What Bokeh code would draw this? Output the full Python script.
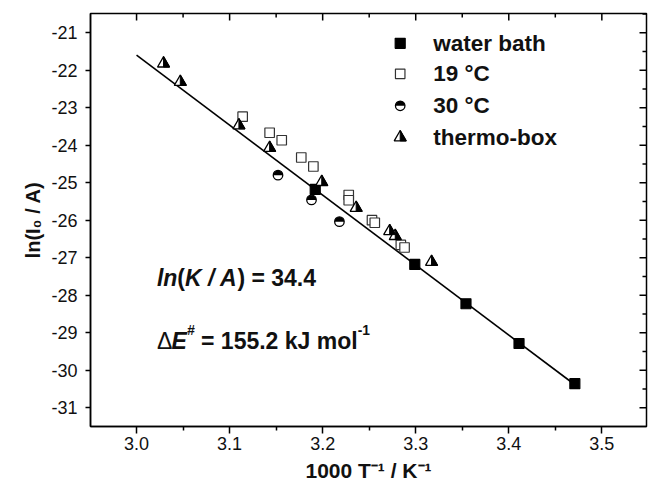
import numpy as np
from bokeh.plotting import figure
from bokeh.models import Range1d, FixedTicker, Label
from bokeh.embed import file_html
from bokeh.resources import INLINE

# ---------------- data ----------------
water_x = [3.192, 3.299, 3.354, 3.411, 3.471]
water_y = [-25.18, -27.18, -28.23, -29.29, -30.36]

c19_x = [3.114, 3.143, 3.156, 3.177, 3.190, 3.228, 3.228, 3.253, 3.256, 3.284, 3.288]
c19_y = [-23.24, -23.67, -23.87, -24.33, -24.57, -25.33, -25.47, -26.00, -26.07, -26.66, -26.73]

c30_x = [3.152, 3.188, 3.218]
c30_y = [-24.80, -25.46, -26.04]

box_x = [3.029, 3.047, 3.110, 3.143, 3.199, 3.236, 3.272, 3.278, 3.317]
box_y = [-21.82, -22.31, -23.47, -24.07, -24.98, -25.67, -26.29, -26.42, -27.11]

fit_x = [3.0, 3.47]
fit_y = [-21.6, -30.37]

x_ticks = [3.0, 3.1, 3.2, 3.3, 3.4, 3.5]
x_tick_labels = ["3.0", "3.1", "3.2", "3.3", "3.4", "3.5"]
x_minor = [3.05, 3.15, 3.25, 3.35, 3.45]
y_ticks = [-31, -30, -29, -28, -27, -26, -25, -24, -23, -22, -21]
y_tick_labels = ["-31", "-30", "-29", "-28", "-27", "-26", "-25", "-24", "-23", "-22", "-21"]
y_minor = [-30.5, -29.5, -28.5, -27.5, -26.5, -25.5, -24.5, -23.5, -22.5, -21.5, -20.5]

legend_labels = ["water bath", "19 \u00b0C", "30 \u00b0C", "thermo-box"]
x_title = "1000 T\u207b\u00b9 / K\u207b\u00b9"
y_title = "ln(I\u2080 / A)"

# ---------------- layout ----------------
X0, X1 = 2.9505, 3.548
Y0, Y1 = -31.503, -20.49
FW, FH = 556, 413
PXX = FW / (X1 - X0)
PXY = FH / (Y1 - Y0)
FONT = "Liberation Sans"
INK = "#111111"

p = figure(frame_width=FW, frame_height=FH,
           x_range=Range1d(X0, X1), y_range=Range1d(Y0, Y1),
           output_backend="svg", toolbar_location=None,
           min_border_left=90, min_border_top=13, min_border_right=2, min_border_bottom=40)
p.grid.visible = False
p.outline_line_color = "black"
p.outline_line_width = 1.5
p.background_fill_color = "white"
p.border_fill_color = "white"

def style_axis(ax):
    ax.axis_line_color = "black"
    ax.axis_line_width = 1.5
    ax.major_tick_line_color = "black"
    ax.major_tick_line_width = 1.5
    ax.minor_tick_line_color = "black"
    ax.minor_tick_line_width = 1.5
    ax.major_label_text_font = FONT
    ax.major_label_text_font_size = "18px"
    ax.major_label_text_color = INK
    ax.axis_label_text_font = FONT
    ax.axis_label_text_font_style = "bold"
    ax.axis_label_text_color = INK

xa = p.xaxis[0]
style_axis(xa)
xa.ticker = FixedTicker(ticks=x_ticks, minor_ticks=x_minor)
xa.major_label_overrides = dict(zip(x_ticks, x_tick_labels))
xa.major_tick_out = 7
xa.major_tick_in = 0
xa.minor_tick_out = 4
xa.minor_tick_in = 0
xa.major_label_standoff = 3
xa.axis_label = x_title
xa.axis_label_text_font_size = "21px"
xa.axis_label_standoff = 6

ya = p.yaxis[0]
style_axis(ya)
ya.ticker = FixedTicker(ticks=y_ticks, minor_ticks=[])
ya.major_label_overrides = dict(zip(y_ticks, y_tick_labels))
ya.major_tick_out = 5
ya.major_tick_in = 0
ya.minor_tick_line_color = None
ya.major_label_standoff = 8
ya.axis_label = y_title
ya.axis_label_text_font_size = "20px"
ya.axis_label_standoff = 4

# inward ticks on the top and right frame edges (mirrored from the tick arrays)
def vticks(xs, length):
    p.segment(x0=xs, y0=[Y1] * len(xs), x1=xs, y1=[Y1 - length / PXY] * len(xs),
              line_color="black", line_width=1.5)

def hticks(ys, length):
    p.segment(x0=[X1] * len(ys), y0=ys, x1=[X1 - length / PXX] * len(ys), y1=ys,
              line_color="black", line_width=1.5)

vticks(x_ticks, 7)
vticks(x_minor, 4)
hticks(y_ticks, 7)
hticks(y_minor, 4)

# ---------------- marks ----------------
p.line(fit_x, fit_y, line_color="black", line_width=1.6)

def draw_square(xs, ys, filled):
    p.scatter(xs, ys, marker="square", size=10 if filled else 9.5,
              fill_color="black" if filled else "white",
              line_color="black" if filled else "#333333", line_width=1.2)

def draw_halfcircle(xs, ys):
    p.scatter(xs, ys, marker="circle", size=9.5, fill_color="white", line_color=None)
    p.wedge(xs, ys, radius=4.75, radius_units="screen", start_angle=0, end_angle=np.pi,
            fill_color="black", line_color=None)
    p.scatter(xs, ys, marker="circle", size=9.5, fill_color=None, line_color="black", line_width=1.3)

TRI = [(-6.0, 3.6), (6.0, 3.6), (0.0, -6.8)]
TRI_HALF = [(0.0, -6.8), (6.0, 3.6), (0.0, 3.6)]

def _pts(xs, ys, pts):
    return ([[x + dx / PXX for dx, dy in pts] for x in xs],
            [[y - dy / PXY for dx, dy in pts] for y in ys])

def draw_halftri(xs, ys):
    a, b = _pts(xs, ys, TRI)
    p.patches(a, b, fill_color="white", line_color="black", line_width=1.3)
    c, d = _pts(xs, ys, TRI_HALF)
    p.patches(c, d, fill_color="black", line_color="black", line_width=1.0)

draw_square(c19_x, c19_y, False)
draw_square(water_x, water_y, True)
draw_halfcircle(c30_x, c30_y)
draw_halftri(box_x, box_y)

# ---------------- legend (manual) ----------------
def sx(px):
    return X0 + (px - 90.3) / PXX

def sy(py):
    return Y1 - (py - 12.7) / PXY

leg_rows = [42.5, 73.0, 105.0, 136.5]
mx = sx(400)
draw_square([mx], [sy(leg_rows[0])], True)
draw_square([mx], [sy(leg_rows[1])], False)
draw_halfcircle([mx], [sy(leg_rows[2])])
draw_halftri([mx], [sy(leg_rows[3])])
for lab, r in zip(legend_labels, leg_rows):
    p.add_layout(Label(x=sx(433), y=sy(r), text=lab, text_font=FONT, text_font_size="22.5px",
                       text_font_style="bold", text_baseline="middle", text_align="left",
                       text_color=INK))

# ---------------- annotations (rich text pieces) ----------------
W = {' ': 278, '#': 556, '(': 333, ')': 333, '-': 333, '.': 278, '/': 278, '1': 556, '2': 556,
     '3': 556, '4': 556, '5': 556, '=': 584, 'A': 722, 'E': 667, 'J': 556, 'K': 722, 'k': 556,
     'l': 278, 'n': 611, 'm': 889, 'o': 611, '\u0394': 640}

def add_rich(x, y, segs, size):
    off = 0.0
    for text, style, scale, rise in segs:
        fs = size * scale
        lead = len(text) - len(text.lstrip(" "))
        off += lead * W[' '] / 1000.0 * fs
        body = text.strip(" ")
        p.add_layout(Label(x=x, y=y, x_offset=off, y_offset=rise * size, text=body,
                           text_font=FONT, text_font_size=f"{fs:.1f}px", text_font_style=style,
                           text_baseline="alphabetic", text_align="left", text_color=INK))
        off += sum(W.get(c, 556) for c in text.lstrip(" ")) / 1000.0 * fs

add_rich(sx(156.7), sy(277), [("ln", "bold italic", 1, 0), ("(", "bold", 1, 0),
                              ("K / A", "bold italic", 1, 0), (") = 34.4", "bold", 1, 0)], 23)
add_rich(sx(156.7), sy(340), [("\u0394", "normal", 1, 0), ("E", "bold italic", 1, 0),
                              ("#", "bold italic", 0.6, 0.45), (" = 155.2 kJ mol", "bold", 1, 0),
                              ("-1", "bold", 0.6, 0.45)], 23)

open("out.html", "w").write(file_html(p, INLINE))
